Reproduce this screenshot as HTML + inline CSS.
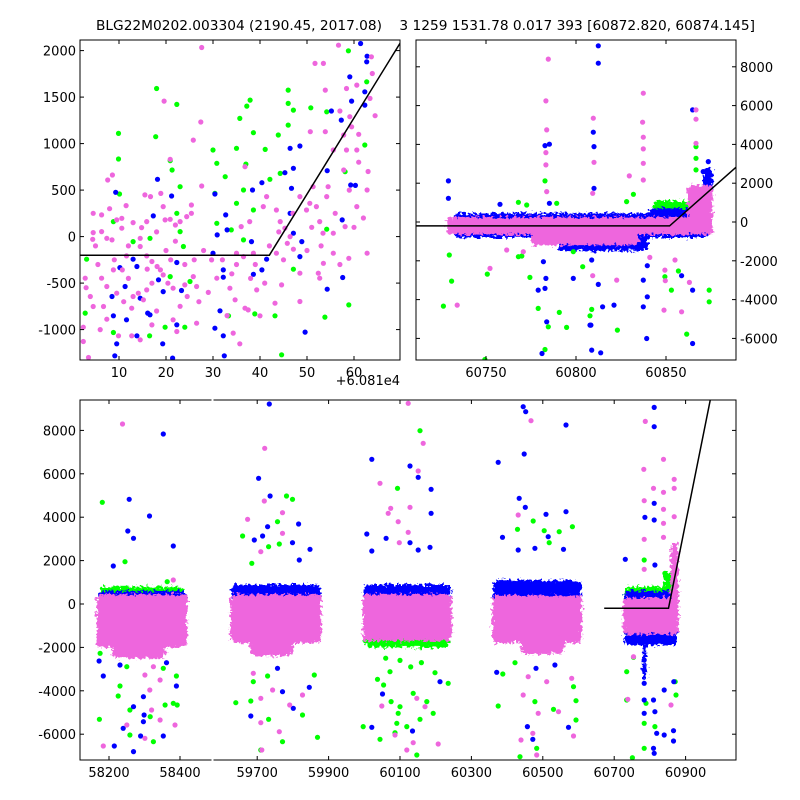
<!DOCTYPE html>
<html><head><meta charset="utf-8"><title>BLG22M0202.003304</title>
<style>
html,body{margin:0;padding:0;background:#fff;}
svg{display:block;font-family:"DejaVu Sans","Liberation Sans",sans-serif;}
text{font-size:13px;fill:#000;}
</style></head>
<body>
<svg id="fig" width="800" height="800" viewBox="0 0 800 800" xmlns="http://www.w3.org/2000/svg">
<defs>
<filter id="rough" x="-10%" y="-10%" width="120%" height="120%">
<feTurbulence type="fractalNoise" baseFrequency="0.35" numOctaves="2" seed="3" result="n"/>
<feDisplacementMap in="SourceGraphic" in2="n" scale="9" xChannelSelector="R" yChannelSelector="G"/>
</filter>
</defs>
<text x="96" y="30" textLength="659" lengthAdjust="spacingAndGlyphs" style="white-space:pre;font-size:13.5px">BLG22M0202.003304 (2190.45, 2017.08)    3 1259 1531.78 0.017 393 [60872.820, 60874.145]</text>
<text x="400" y="385" text-anchor="end">+6.081e4</text>
</svg>
<script>
// ---------- model ----------
const modelBreak = [60852];
const modelBase = [-200];
const modelSlope = [82];

// ---------- tick labels ----------
const tlXTicks = [10, 20, 30, 40, 50, 60];
const tlYTicks = [-1000, -500, 0, 500, 1000, 1500, 2000];
const trXTicks = [60750, 60800, 60850];
const trYTicks = [-6000, -4000, -2000, 0, 2000, 4000, 6000, 8000];
const btXTicks = [58200, 58400, 59700, 59900, 60100, 60300, 60500, 60700, 60900];
const btYTicks = [-6000, -4000, -2000, 0, 2000, 4000, 6000, 8000];

// ---------- top-left zoom panel (x = MJD - 60810) ----------
const tlGreen = [[18.0,1593],[22.3,1421],[9.9,1110],[9.9,834],[17.8,1074],[20.9,816],[21.3,716],[10.1,458],[23,537],[30,931],[35,949],[37.9,1468],[37.2,1403],[35.7,1271],[38.6,1117],[46,1575],[46,1432],[47.1,1360],[43.9,1092],[46,1199],[50.8,1385],[54.2,1342],[58.8,1998],[62.7,1665],[62.3,985],[30.8,788],[41.1,938],[37,780],[30.4,465],[36.5,501],[35,358],[32.6,644],[44.3,680],[42.1,616],[38.6,286],[30.8,143],[33.9,72],[36.5,-36],[3.1,-243],[8.8,161],[13,-54],[16.6,-18],[22.3,251],[23,54],[23.7,-107],[20.9,-430],[19.8,-974],[24,-974],[25.1,-483],[8.8,-1031],[2.8,-823],[16.5,-1067],[33.3,-852],[38.9,-831],[43.2,-852],[47.1,-351],[53.8,-866],[58.9,-734],[44.6,-1271],[54.2,79],[58.1,698]];
const tlBlue = [[9.3,476],[18.2,616],[21.2,437],[17.3,222],[13,-243],[10.2,-333],[11.3,-537],[13.8,-322],[14.5,-662],[16.6,-841],[11.6,-895],[9.5,-1153],[9.1,-1282],[13.8,-1067],[16.1,-823],[19.4,-591],[18.4,-465],[22.3,-279],[23.3,-580],[19.3,-1153],[21.4,-1307],[22.3,-949],[30.4,458],[32.7,233],[30.9,18],[30,-179],[32.2,-358],[33,72],[32.2,-437],[30.4,-985],[32.2,-1067],[32.4,-1282],[31.5,-798],[38.4,501],[40.4,580],[38.2,-54],[38.6,-405],[40.4,-358],[41.4,-243],[46.4,949],[48.5,974],[47.1,734],[45.3,687],[46.7,519],[46.4,251],[47.1,36],[48.9,-54],[48.5,-215],[54.3,709],[55.2,1350],[57.3,1253],[59.1,1718],[59.5,1457],[59.3,555],[60.3,551],[62.3,1557],[62.3,1414],[61.4,2076],[62.8,1940],[62.7,1880],[57.6,-440],[54.3,-566],[49.6,-1027],[57.5,179],[8.8,-852],[8.5,-644]];
const tlPink = [[27.6,2033],[19.6,1457],[27.4,1232],[25.8,1038],[20.9,831],[36.8,752],[27.6,544],[7.6,609],[8.6,662],[4.5,251],[6.3,233],[4.5,43],[4.4,-29],[6.3,54],[7.4,-18],[9.5,179],[10.6,197],[11.5,333],[10.6,90],[8.5,-36],[14.5,-18],[14.8,97],[15.9,161],[15.5,448],[16.7,430],[18.9,465],[19.4,322],[19.8,179],[20.9,186],[22,125],[23,161],[25.4,340],[25.4,251],[24.4,215],[14.5,-107],[15.9,-208],[11.6,-208],[10.7,-358],[8.8,-358],[6.3,-447],[2.8,-447],[3.9,-644],[4.5,-752],[7.4,-537],[6.7,-752],[9.5,-609],[12.7,-770],[13,-644],[14.1,-609],[15.2,-680],[15.9,-573],[17,-501],[18.1,-322],[18.8,-358],[19.4,-412],[17,-268],[20.4,-501],[21.5,-555],[24,-519],[25.8,-430],[26.5,-537],[24.5,-644],[21.5,-895],[22.3,-1020],[26.5,-931],[14.5,-1110],[12.7,-1067],[9.9,-1067],[7.4,-888],[2.4,-1128],[2.4,-974],[29.7,-251],[30.8,-447],[33.6,-555],[34.7,-680],[36.8,-770],[34.3,-1038],[35.7,-1153],[37.5,-788],[39.3,-573],[40,-852],[36.5,-215],[38.6,-179],[35,-179],[36,107],[37.8,161],[40.7,322],[41.4,430],[43.5,286],[44.3,161],[45.3,90],[46.4,0],[43.5,-179],[44.6,-519],[43.2,-716],[45.8,-72],[48.5,430],[49.9,286],[50.6,358],[51.3,537],[52,322],[53.4,36],[52.7,161],[54.2,430],[55.6,36],[52.4,-394],[53.5,-287],[52.7,-447],[48.5,-698],[54.5,537],[50.7,1128],[53.9,1128],[53.9,1575],[51.7,1862],[53.5,1862],[56.7,2058],[58.4,1593],[60.6,1629],[59.1,1289],[57.8,1092],[59.5,1181],[60.6,931],[58.4,931],[55.6,931],[57.8,716],[60.6,322],[58.1,107],[62.8,501],[63.4,1486],[63.9,1754],[63.7,1933],[62.8,-179],[58.9,-233],[55.6,-179],[48.5,-394],[47.1,-136],[5.5,-300],[12,-450],[20,-150],[27,-700],[3.5,-1300],[62,200],[64.5,1300],[5,-100],[9,-250],[13,150],[16,-350],[21,-250],[24,-300],[28,-150],[32,-250],[34,-400],[39,-300],[42,-100],[45,-250],[50,-150],[53,-100],[57,-300],[60,100],[3,-550],[11,-700],[18,-800],[23,-750],[29,-600],[33,-850],[41,-500],[6,-1000],[17,-950],[8,300],[12,-100],[18,50],[22,-50],[26,-250],[35,-300],[38,-450],[44,50],[47,250],[51,100],[56,250],[59,500],[61,800],[57,1350],[61,1100],[63,700]];

// ---------- top-right season panel ----------
const trGreenBands = [[60737,60874,-700,300],[60843,60870,100,1100]];
const trBlueBands = [[60732,60874,-800,450],[60840,60868,-200,700],[60871,60876,1500,2800],[60790,60840,-1500,-300]];
const trPinkBands = [[60728,60876,-650,250],[60862,60876,-100,1900],[60775,60835,-1200,-200]];
const trGreen = [[60726.3,-4334],[60730.9,-3044],[60729.6,-1703],[60750.7,-2683],[60782.8,2116],[60782.8,-6570],[60779,-4455],[60784.6,-5401],[60790.7,-4661],[60794.8,-5435],[60808.7,-4506],[60807.8,-4833],[60823,-5573],[60774.4,-2855],[60768,-1789],[60769.9,-1754],[60798.5,-1531],[60803.7,-2305],[60849.4,-2821],[60856.9,-2528],[60853,-3509],[60861.5,-5779],[60874,-3509],[60874,-4111],[60866.7,3285],[60866.7,2683],[60866.7,3887],[60831.9,1428],[60828.1,1049],[60749.4,-7086],[60768,1015],[60772.6,877],[60789.3,963]];
const trBlue = [[60812.4,9082],[60812.4,8187],[60809.6,4627],[60810,3887],[60810,1737],[60729.1,2116],[60729.1,1221],[60782.8,3939],[60785.2,4008],[60779,-3509],[60782.8,-3423],[60783.3,-2907],[60781.9,-2047],[60783.7,-5143],[60781.1,-6777],[60808.3,-5315],[60807.8,-5315],[60808.7,-6605],[60813.7,-6742],[60814.8,-4369],[60821.1,-4283],[60812.4,-3216],[60798.5,-2907],[60808.7,-1961],[60839.3,-6003],[60839.6,-3853],[60837.4,-4369],[60837.4,-2993],[60839.6,-2253],[60864.8,5779],[60873.5,3113],[60873,2597],[60870.7,2597],[60858.7,-2769],[60864.8,-3509],[60864.8,-6261],[60785.2,963],[60757.8,912]];
const trPink = [[60784.6,8394],[60783.3,6244],[60783.7,4747],[60783.3,3578],[60783.3,2941],[60783.7,1565],[60809.6,5349],[60810,3079],[60809.3,1479],[60837.4,6639],[60837,5143],[60837.4,4369],[60837.4,3767],[60837.4,3027],[60837.4,2167],[60829.6,2374],[60866.7,5779],[60866.7,5298],[60866.7,4059],[60752.2,-2391],[60734,-4283],[60809.3,-2769],[60822.6,-2993],[60841,-1823],[60849.4,-2477],[60849.6,-3027],[60848.9,-4541],[60858.7,-4627],[60863,-3113],[60855,-1961],[60770.7,-1531],[60761.5,-1445]];

// ---------- bottom full light curve ----------
const btGreenBands = [[58175,58410,-1800,800],[59630,59875,-1700,700],[60000,60240,-2000,700],[60362,60605,-1700,800],[60728,60875,-1600,800],[60840,60875,0,1500]];
const btBlueBands = [[58168,58418,-1600,600],[59628,59878,-1500,900],[59772,59786,-2000,800],[59998,60242,-1300,900],[60360,60608,-1400,1100],[60728,60876,-1900,600],[60780,60790,-3500,-1500]];
const btPinkBands = [[58165,58420,-2000,450],[58210,58360,-2500,-1500],[59625,59880,-1800,450],[59680,59800,-2400,-1500],[59995,60245,-1700,450],[60358,60610,-1800,400],[60440,60560,-2300,-1500],[60725,60880,-1400,300],[60858,60880,-800,2800]];
const btGreen = [[58181,4685],[58245,1951],[58364,1029],[58173,-5315],[58226,-4240],[58259,-4885],[58259,-6037],[58325,-6344],[58316,-5192],[58358,-4654],[58381,-4577],[58392,-4654],[58390,-3318],[58231,-3779],[58250,-2888],[58353,-2964],[58175,-2273],[59782,4977],[59799,4823],[59659,3133],[59757,3794],[59762,2765],[59685,1874],[59732,2642],[59640,-4547],[59682,-4470],[59732,-5315],[59771,-6344],[59710,-6728],[59827,-5115],[59869,-6144],[59860,-3272],[59689,-3579],[59729,-3318],[60093,5330],[59997,-5652],[60044,-6236],[60037,-3471],[60054,-3732],[60075,-4500],[60091,-5499],[60086,-5929],[60095,-5038],[60100,-4731],[60072,-3118],[60156,7987],[60137,-4116],[60119,-5652],[60156,-5315],[60175,-4500],[60193,-5038],[60147,-6958],[60235,-3656],[60198,-3164],[60473,3825],[60504,3379],[60546,3333],[60583,3564],[60429,3441],[60518,2826],[60375,-4700],[60388,-3226],[60422,-2703],[60478,-4500],[60483,-6651],[60530,-4854],[60593,-4454],[60593,-5345],[60436,-7035],[60586,-3810],[60842,1413],[60784,2027],[60735,-4424],[60784,-5499],[60789,-4577],[60814,-5652],[60871,-3579],[60754,-2457],[60735,-3118],[60784,-6651],[60751,-7081],[60873,-4193],[60100,-2600],[60130,-2900],[60160,-2700],[60060,-2500]];
const btBlue = [[58353,7834],[58257,4823],[58314,4055],[58253,3364],[58269,3026],[58212,1751],[58381,2673],[58215,-6543],[58184,-3318],[58240,-5729],[58269,-4731],[58289,-6083],[58269,-6804],[58299,-5115],[58297,-5422],[58353,-6083],[58390,-3779],[58297,-4270],[58231,-2811],[58362,-2703],[58172,-2627],[59734,9216],[59704,5791],[59736,4977],[59692,2949],[59715,3133],[59729,3564],[59816,3686],[59799,2826],[59818,2027],[59848,2519],[59682,-5161],[59801,-4808],[59846,-3840],[59757,-2964],[59771,-4040],[60021,6666],[60007,3226],[60021,2442],[60061,3026],[60021,-5683],[60051,-4147],[60128,6359],[60151,5837],[60187,5284],[60187,4178],[60128,2826],[60184,2611],[60151,2488],[60135,-5852],[60212,-3579],[60445,9093],[60452,8863],[60565,8248],[60448,6912],[60375,6528],[60434,4869],[60451,4454],[60387,3072],[60565,4255],[60509,4132],[60515,3103],[60558,2519],[60431,2488],[60478,2565],[60371,-3149],[60481,-2964],[60457,-5652],[60472,-6236],[60572,-5683],[60534,-2811],[60812,9062],[60812,8171],[60812,4639],[60786,3994],[60812,3871],[60731,2058],[60814,1797],[60784,-2580],[60784,-3041],[60784,-3656],[60784,-4424],[60784,-5038],[60810,-4424],[60814,-4961],[60819,-5960],[60840,-3963],[60840,-6037],[60866,-5837],[60866,-6313],[60867,-3579],[60810,-6651],[60812,-6881]];
const btPink = [[58238,8294],[58381,1106],[58184,-6543],[58250,-5576],[58301,-6190],[58344,-5345],[58386,-5576],[58320,-4885],[58301,-3272],[58315,-3963],[58344,-3502],[58325,-2888],[59721,7173],[59720,4746],[59673,3902],[59771,4209],[59771,3256],[59710,2412],[59710,-4347],[59762,-5883],[59713,-6728],[59710,-5468],[59791,-4654],[59827,-4193],[59743,-3963],[59689,-3195],[60044,5560],[60074,4408],[60067,4178],[60095,3794],[60098,2826],[60049,-4700],[60086,-6037],[60123,9247],[60165,7404],[60151,6129],[60128,4454],[60123,3302],[60147,-4347],[60170,-4731],[60137,-6390],[60207,-6451],[60119,-6728],[60467,8448],[60431,4101],[60445,-4193],[60487,-5038],[60472,-5960],[60483,-6958],[60439,-6267],[60544,-4961],[60586,-6083],[60581,-3425],[60511,-3579],[60459,-3349],[60787,8417],[60838,6666],[60783,6206],[60868,5745],[60810,5330],[60838,5146],[60868,5330],[60784,4762],[60838,4362],[60868,4024],[60838,3717],[60784,2980],[60838,3072],[60784,1597],[60738,-4393],[60859,-4654],[60754,-2427]];

// ---------- drawing ----------
const NS = "http://www.w3.org/2000/svg";
const svg = document.getElementById("fig");
const COL = {green:"#00ff00", blue:"#0000ff", pink:"#ee66dd"};

function el(tag, parent){ const e = document.createElementNS(NS, tag); parent.appendChild(e); return e; }
function linear(d0, d1, p0, p1){ return v => p0 + (v - d0) / (d1 - d0) * (p1 - p0); }

const panels = {
  tl: {x0:80, x1:400, y0:40, y1:360, sx: linear(1.70, 69.79, 80, 400), sy: linear(-1327, 2114, 360, 40), off:60810, tmin:1.70},
  tr: {x0:416, x1:736, y0:40, y1:360, sx: linear(60711.1, 60888.9, 416, 736), sy: linear(-7113, 9381, 360, 40), off:0, tmin:60711.1},
  bt: {x0:80, x1:736, y0:400, y1:760,
       sx: v => v < 59000 ? 109 + (v - 58200) * 0.355 : 400 + (v - 60100) * 0.357,
       sy: linear(-7189, 9401, 760, 400), off:0, tmin:60672}
};

function clip(id, p){
  const cp = el("clipPath", svg); cp.setAttribute("id", id);
  const r = el("rect", cp);
  r.setAttribute("x", p.x0); r.setAttribute("y", p.y0);
  r.setAttribute("width", p.x1 - p.x0); r.setAttribute("height", p.y1 - p.y0);
}

function drawBands(parent, p, bands, color, name){
  const g = el("g", parent);
  
  
  g.setAttribute("filter", "url(#rough)");
  bands.forEach(b => {
    const r = el("rect", g);
    
    
    const xa = p.sx(b[0]), xb = p.sx(b[1]), ya = p.sy(b[3]), yb = p.sy(b[2]);
    r.setAttribute("x", xa); r.setAttribute("y", ya);
    r.setAttribute("width", xb - xa); r.setAttribute("height", yb - ya);
    r.setAttribute("rx", 5); r.setAttribute("fill", color);
  });
}

function drawPoints(g, p, pts, color, name){
  pts.forEach(d => {
    const c = el("circle", g);
    
    
    c.setAttribute("cx", p.sx(d[0]).toFixed(1));
    c.setAttribute("cy", p.sy(d[1]).toFixed(1));
    c.setAttribute("r", 2.6); c.setAttribute("fill", color);
  });
}

function drawModel(g, p){
  const tb = modelBreak[0] - p.off, base = modelBase[0], s = modelSlope[0];
  const tEnd = tb + 12000 / s;
  const pl = el("polyline", g);
  
  
  pl.setAttribute("points", [[p.tmin, base], [tb, base], [tEnd, base + s * (tEnd - tb)]]
    .map(q => p.sx(q[0]).toFixed(1) + "," + p.sy(q[1]).toFixed(1)).join(" "));
  pl.setAttribute("fill", "none"); pl.setAttribute("stroke", "#000"); pl.setAttribute("stroke-width", 1.5);
}

function drawFrame(p, xt, yt, yRight, name){
  const g = el("g", svg);
  
  
  const r = el("rect", g);
  r.setAttribute("x", p.x0); r.setAttribute("y", p.y0);
  r.setAttribute("width", p.x1 - p.x0); r.setAttribute("height", p.y1 - p.y0);
  r.setAttribute("fill", "none"); r.setAttribute("stroke", "#000"); r.setAttribute("stroke-width", 1);
  xt.forEach(v => {
    const x = p.sx(v);
    [[p.y1, p.y1 - 4], [p.y0, p.y0 + 4]].forEach(s => {
      const l = el("line", g);
      l.setAttribute("x1", x); l.setAttribute("x2", x); l.setAttribute("y1", s[0]); l.setAttribute("y2", s[1]);
      l.setAttribute("stroke", "#000");
    });
    const t = el("text", g);
    
    
    t.setAttribute("x", x); t.setAttribute("y", p.y1 + 17); t.setAttribute("text-anchor", "middle");
    t.textContent = v;
  });
  yt.forEach(v => {
    const y = p.sy(v);
    [[p.x0, p.x0 + 4], [p.x1, p.x1 - 4]].forEach(s => {
      const l = el("line", g);
      l.setAttribute("x1", s[0]); l.setAttribute("x2", s[1]); l.setAttribute("y1", y); l.setAttribute("y2", y);
      l.setAttribute("stroke", "#000");
    });
    const t = el("text", g);
    
    
    t.setAttribute("y", y + 5);
    if (yRight){ t.setAttribute("x", p.x1 + 4); t.setAttribute("text-anchor", "start"); }
    else { t.setAttribute("x", p.x0 - 4); t.setAttribute("text-anchor", "end"); }
    t.textContent = v;
  });
  return g;
}

function panel(key, name, bands, pts, xt, yt, yRight){
  const p = panels[key];
  clip("clip-" + key, p);
  const g = el("g", svg);
  
  
  g.setAttribute("clip-path", "url(#clip-" + key + ")");
  if (bands){
    drawBands(g, p, bands[0], COL.green, 'green-core-band');
    drawBands(g, p, bands[1], COL.blue, 'blue-core-band');
  }
  drawPoints(g, p, pts[0], COL.green, 'green-point');
  drawPoints(g, p, pts[1], COL.blue, 'blue-point');
  if (bands) drawBands(g, p, bands[2], COL.pink, 'pink-core-band');
  drawPoints(g, p, pts[2], COL.pink, 'pink-point');
  drawModel(g, p);
  drawFrame(p, xt, yt, yRight, name);
}

panel("tl", "zoom-panel", null, [tlGreen, tlBlue, tlPink], tlXTicks, tlYTicks, false);
panel("tr", "season-panel", [trGreenBands, trBlueBands, trPinkBands], [trGreen, trBlue, trPink], trXTicks, trYTicks, true);
panel("bt", "full-lightcurve-panel", [btGreenBands, btBlueBands, btPinkBands], [btGreen, btBlue, btPink], btXTicks, btYTicks, false);

// axis break marker on bottom panel
const brk = el("rect", svg);


brk.setAttribute("x", 211.5); brk.setAttribute("y", 396); brk.setAttribute("width", 2); brk.setAttribute("height", 8);
brk.setAttribute("fill", "#fff");
const brk2 = el("rect", svg);


brk2.setAttribute("x", 211.5); brk2.setAttribute("y", 756); brk2.setAttribute("width", 2); brk2.setAttribute("height", 8);
brk2.setAttribute("fill", "#fff");
</script>
</body></html>
